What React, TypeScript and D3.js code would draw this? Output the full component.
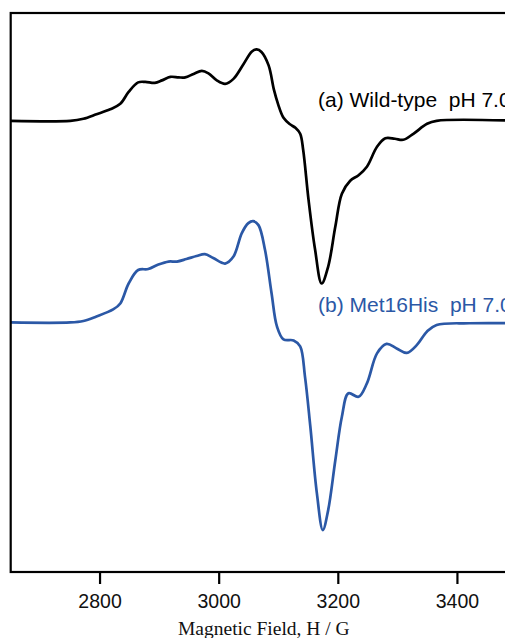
import React from "react";
import * as d3 from "d3";

// EPR first-derivative spectra, field in gauss, intensity in arbitrary units
const fieldTicks = [2800, 3000, 3200, 3400];

const wildTypeField = [
  2650, 2750, 2772, 2794, 2817, 2834, 2848, 2864, 2876, 2892, 2904, 2918, 2932, 2943,
  2957, 2971, 2982, 2996, 3010, 3024, 3041, 3055, 3063, 3071, 3083, 3092, 3099, 3108,
  3119, 3128, 3136, 3141, 3150, 3161, 3172, 3183, 3195, 3206, 3220, 3234, 3248, 3265,
  3279, 3295, 3309, 3326, 3349, 3365, 3500,
];
const wildTypeSignal = [
  0, 0, 0.02, 0.065, 0.115, 0.17, 0.29, 0.385, 0.39, 0.38, 0.405, 0.44, 0.435, 0.435,
  0.47, 0.5, 0.475, 0.405, 0.37, 0.42, 0.57, 0.695, 0.715, 0.69, 0.555, 0.31, 0.165, 0.03,
  -0.035, -0.07, -0.13, -0.29, -0.79, -1.29, -1.63, -1.46, -1.06, -0.73, -0.6, -0.545, -0.46, -0.26,
  -0.175, -0.18, -0.19, -0.13, -0.03, 0, 0,
];

const met16HisField = [
  2650, 2750, 2772, 2794, 2822, 2834, 2848, 2864, 2881, 2898, 2915, 2929, 2945, 2962,
  2976, 2990, 3010, 3024, 3038, 3049, 3057, 3066, 3077, 3088, 3097, 3108, 3125, 3136,
  3144, 3153, 3164, 3174, 3183, 3195, 3206, 3217, 3234, 3248, 3265, 3281, 3298, 3315,
  3332, 3349, 3365, 3420, 3500,
];
const met16HisSignal = [
  0, 0, 0.015, 0.06, 0.13, 0.19, 0.39, 0.525, 0.535, 0.58, 0.61, 0.61, 0.635, 0.665,
  0.685, 0.645, 0.59, 0.66, 0.895, 0.995, 1.015, 0.975, 0.725, 0.29, -0.04, -0.17, -0.18, -0.24,
  -0.54, -1.04, -1.71, -2.08, -1.88, -1.38, -0.945, -0.71, -0.745, -0.61, -0.31, -0.215, -0.26, -0.305,
  -0.225, -0.09, -0.025, -0.008, -0.008,
];

const traceNames = ["(a) Wild-type  pH 7.0", "(b) Met16His  pH 7.0"];
const traceOffsets = [2.02, 0];

const WIDTH = 505;
const HEIGHT = 638;
const plot = { left: 10.7, right: 517, top: 13, bottom: 572 };
const colors = ["#000000", "#2b58a6"];
const labelLift = [14.3, 10.5];

export default function App() {
  const x = d3.scaleLinear().domain([2650, 3500]).range([plot.left, plot.right]);
  const y = d3.scaleLinear().domain([-2.5, 3.1]).range([plot.bottom, plot.top]);

  const traces = [
    { field: wildTypeField, signal: wildTypeSignal },
    { field: met16HisField, signal: met16HisSignal },
  ];

  const paths = traces.map((t, i) => {
    const pts: [number, number][] = t.field.map((f, k) => [f, t.signal[k] + traceOffsets[i]]);
    const line = d3
      .line<[number, number]>()
      .x((d) => x(d[0]))
      .y((d) => y(d[1]))
      .curve(d3.curveCatmullRom.alpha(0.5));
    return line(pts) || "";
  });

  return (
    <svg
      width={WIDTH}
      height={HEIGHT}
      style={{ position: "absolute", left: 0, top: 0, background: "#fff", overflow: "hidden" }}
    >
      <defs>
        <clipPath id="plot-area">
          <rect x={plot.left} y={plot.top} width={plot.right - plot.left} height={plot.bottom - plot.top} />
        </clipPath>
      </defs>

      <g clipPath="url(#plot-area)">
        {paths.map((d, i) => (
          <path
            key={i}
            d={d}
            fill="none"
            stroke={colors[i]}
            strokeWidth={2.7}
            strokeLinejoin="round"
            strokeLinecap="round"
          />
        ))}
      </g>

      <rect
        x={plot.left}
        y={plot.top}
        width={plot.right - plot.left}
        height={plot.bottom - plot.top}
        fill="none"
        stroke="#000"
        strokeWidth={2.2}
      />

      {fieldTicks.map((t) => (
        <g key={t} transform={`translate(${x(t)},0)`}>
          <line y1={plot.bottom} y2={plot.bottom + 12} stroke="#000" strokeWidth={2.2} />
          <text
            y={608}
            textAnchor="middle"
            fontFamily="'Liberation Sans', Arial, Helvetica, sans-serif"
            fontSize={19.5}
            fill="#111"
          >
            {t}
          </text>
        </g>
      ))}

      {traceNames.map((name, i) => (
        <text
          key={name}
          x={x(3166)}
          y={y(traceOffsets[i]) - labelLift[i]}
          fontFamily="'Liberation Sans', Arial, Helvetica, sans-serif"
          fontSize={21}
          fill={colors[i]}
          style={{ whiteSpace: "pre" }}
        >
          {name}
        </text>
      ))}

      <text
        x={(plot.left + plot.right) / 2}
        y={635}
        textAnchor="middle"
        fontFamily="'Liberation Serif', 'Times New Roman', serif"
        fontSize={19.5}
        fill="#111"
      >
        Magnetic Field, H / G
      </text>
    </svg>
  );
}
